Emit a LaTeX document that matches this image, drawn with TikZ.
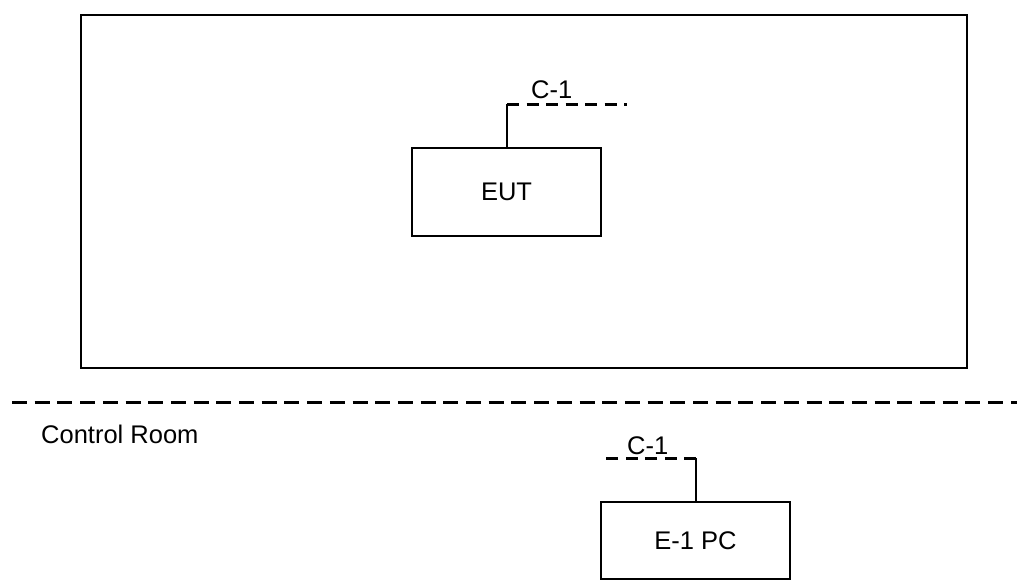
\documentclass[tikz,border=0pt]{standalone}
\usepackage{fontspec}
\setmainfont{Liberation Sans}
\begin{document}
\begin{tikzpicture}[x=1pt,y=-1pt,
  every node/.style={font=\fontsize{25.5}{30}\selectfont, inner sep=0pt},
  unit/.style={draw, line width=1.8pt, minimum width=189pt, minimum height=88pt},
  cable/.style={line width=3pt, dash pattern=on 12pt off 7.5pt},
  lead/.style={line width=2pt}]
\useasboundingbox (0,0) rectangle (1017,586);

% test chamber enclosure
\node[draw, line width=2pt, minimum width=886pt, minimum height=353pt] (room) at (524,191.5) {};

% boundary to the control room
\coordinate (sepL) at (12,402.5);
\coordinate (sepR) at (1017,402.5);
\draw[line width=3.2pt, dash pattern=on 15pt off 7.7pt] (sepL) -- (sepR);
\node[anchor=base west] (ctrl) at (41,443) {Control Room};

% equipment under test and its cable
\node[unit] (eut) at (506.5,192) {EUT};
\coordinate (eutC) at (507,104);
\coordinate (eutE) at (627,104);
\draw[lead] (eut.north -| eutC) -- (eutC);
\draw[cable] (eutC) -- (eutE);
\node[anchor=base west] (c1a) at (531,98) {C-1};

% support PC and its cable
\node[unit, minimum height=77pt] (pc) at (695.5,540.5) {E-1 PC};
\coordinate (pcC) at (696,458);
\coordinate (pcE) at (600,458);
\draw[lead] (pc.north -| pcC) -- (pcC);
\draw[cable] (pcC) -- (pcE);
\node[anchor=base west] (c1b) at (627,454) {C-1};
\end{tikzpicture}
\end{document}
